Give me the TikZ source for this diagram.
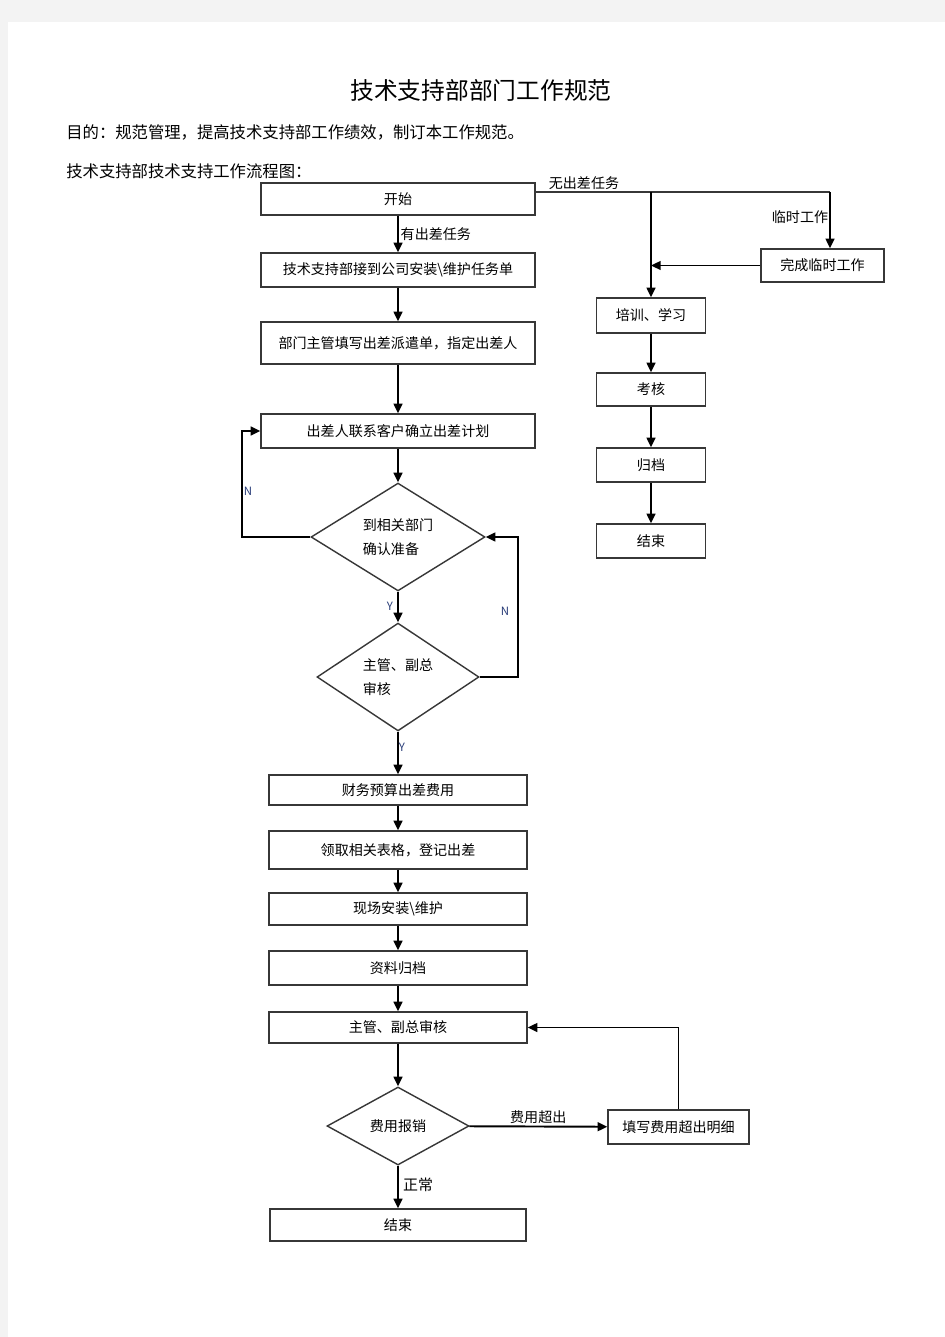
\documentclass[tikz,border=0pt]{standalone}
\usepackage{fontspec}
\setmainfont{Noto Sans CJK SC}
\usetikzlibrary{arrows.meta,shapes.geometric,calc}
\definecolor{pagegray}{RGB}{243,243,243}
\definecolor{boxline}{RGB}{55,55,55}
\definecolor{yncolor}{RGB}{40,60,120}
\newcommand{\pxu}{0.02cm}

\begin{document}
\begin{tikzpicture}[x=0.02cm,y=-0.02cm,
    box/.style={draw=boxline,line width=0.8pt,rectangle,inner sep=0pt,font=\fontsize{8}{10}\selectfont},
    decision/.style={draw=boxline,line width=0.8pt,diamond,inner sep=0pt,align=left,font=\fontsize{8}{14}\selectfont},
    arr/.style={line width=1.1pt,-{Triangle[length=5.5pt,width=5pt]}},
    lbl/.style={font=\fontsize{8}{10}\selectfont,inner sep=1pt},
    yn/.style={font=\fontsize{6.5}{8}\selectfont,text=yncolor,inner sep=0pt}]
    \fill[pagegray] (0,0) rectangle (945,1337);
    \fill[white] (8,22) rectangle (945,1337);

    \node[font=\fontsize{13.5}{16}\selectfont] (title) at (481,90) {技术支持部部门工作规范};
    \node[anchor=west,inner sep=0pt,font=\fontsize{9.3}{11}\selectfont] (aim) at (66,132) {目的：规范管理，提高技术支持部工作绩效，制订本工作规范。};
    \node[anchor=west,inner sep=0pt,font=\fontsize{9.3}{11}\selectfont] (chart) at (66,171) {技术支持部技术支持工作流程图：};

    \node[box,minimum width=274*\pxu,minimum height=32*\pxu] (start) at (398,199) {开始};
    \node[box,minimum width=274*\pxu,minimum height=34*\pxu] (task) at (398,270) {技术支持部接到公司安装\textbackslash 维护任务单};
    \node[box,minimum width=274*\pxu,minimum height=42*\pxu] (assign) at (398,343) {部门主管填写出差派遣单，指定出差人};
    \node[box,minimum width=274*\pxu,minimum height=34*\pxu] (plan) at (398,431) {出差人联系客户确立出差计划};
    \node[decision,minimum width=174*\pxu,minimum height=102*\pxu] (confirm) at (398,537) {到相关部门\\确认准备};
    \node[decision,minimum width=162*\pxu,minimum height=102*\pxu] (approve) at (398,677) {主管、副总\\审核};
    \node[box,minimum width=258*\pxu,minimum height=30*\pxu] (budget) at (398,790) {财务预算出差费用};
    \node[box,minimum width=258*\pxu,minimum height=38*\pxu] (forms) at (398,850) {领取相关表格，登记出差};
    \node[box,minimum width=258*\pxu,minimum height=32*\pxu] (onsite) at (398,909) {现场安装\textbackslash 维护};
    \node[box,minimum width=258*\pxu,minimum height=34*\pxu] (archive) at (398,968) {资料归档};
    \node[box,minimum width=258*\pxu,minimum height=31*\pxu] (review) at (398,1027.5) {主管、副总审核};
    \node[decision,minimum width=142*\pxu,minimum height=78*\pxu] (claim) at (398,1126) {费用报销};
    \node[box,minimum width=141*\pxu,minimum height=34*\pxu] (excess) at (678.5,1127) {填写费用超出明细};
    \node[box,minimum width=256*\pxu,minimum height=32*\pxu] (finish) at (398,1225) {结束};

    \node[box,minimum width=123*\pxu,minimum height=33*\pxu] (temp) at (822.5,265.5) {完成临时工作};
    \node[box,minimum width=109*\pxu,minimum height=35*\pxu] (train) at (651,315.5) {培训、学习};
    \node[box,minimum width=109*\pxu,minimum height=33*\pxu] (exam) at (651,389.5) {考核};
    \node[box,minimum width=109*\pxu,minimum height=34*\pxu] (file) at (651,465) {归档};
    \node[box,minimum width=109*\pxu,minimum height=34*\pxu] (done) at (651,541) {结束};

    \draw[arr] (start) -- (task) node[lbl,midway,anchor=west] {有出差任务};
    \draw[arr] (task) -- (assign);
    \draw[arr] (assign) -- (plan);
    \draw[arr] (plan) -- (confirm);
    \draw[arr] (confirm.west) -- ++(-68,0) |- (plan.west);
    \node[yn] (n1) at (248,491) {N};
    \draw[arr] (confirm) -- (approve);
    \node[yn] (y1) at (390,606) {Y};
    \draw[arr] (approve.east) -- ++(38,0) |- (confirm.east);
    \node[yn] (n2) at (505,611) {N};
    \draw[arr] (approve) -- (budget);
    \node[yn] (y2) at (402,747) {Y};
    \draw[arr] (budget) -- (forms);
    \draw[arr] (forms) -- (onsite);
    \draw[arr] (onsite) -- (archive);
    \draw[arr] (archive) -- (review);
    \draw[arr] (review) -- (claim);
    \draw[arr] (claim) -- (excess) node[lbl,midway,above] {费用超出};
    \draw[arr] (excess.north) |- (review.east);
    \draw[arr] (claim) -- (finish);
    \node[font=\fontsize{8.5}{10}\selectfont] (normal) at (418,1185) {正常};

    \coordinate (fork) at (651,192);
    \coordinate (corner) at (830,192);
    \draw[line width=0.8pt,draw=boxline] (start.east |- fork) -- (corner);
    \draw[arr] (corner) -- (corner |- temp.north);
    \draw[arr] (fork) -- (train.north);
    \draw[arr] (temp.west) -- (temp.west -| fork);
    \node[lbl] (nolabel) at (584,183) {无出差任务};
    \node[lbl] (templabel) at (800,217) {临时工作};
    \draw[arr] (train) -- (exam);
    \draw[arr] (exam) -- (file);
    \draw[arr] (file) -- (done);
\end{tikzpicture}
\end{document}
